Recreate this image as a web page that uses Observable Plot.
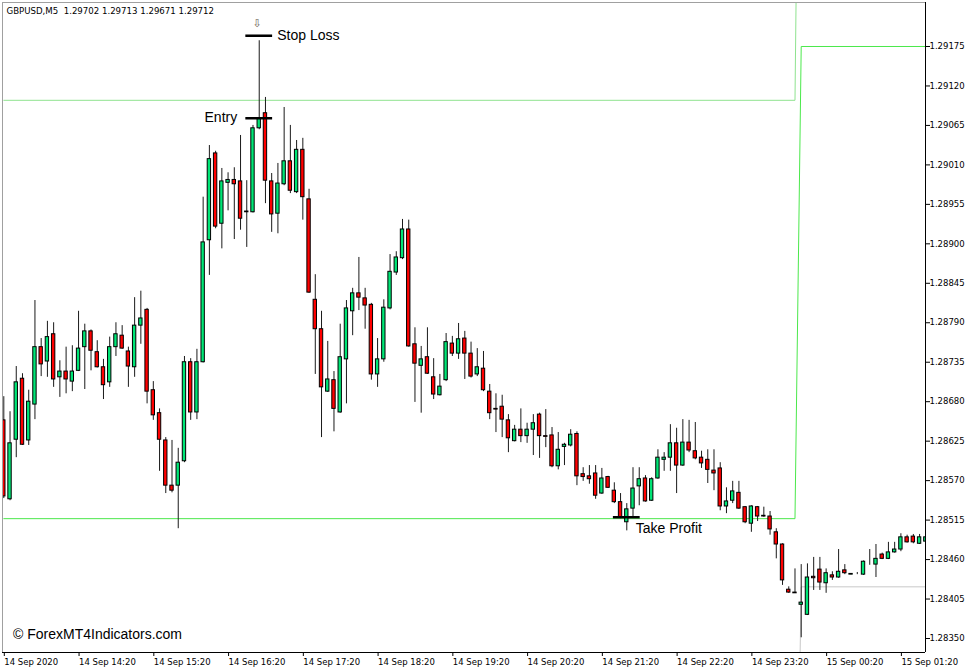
<!DOCTYPE html>
<html><head><meta charset="utf-8">
<script src="https://cdn.jsdelivr.net/npm/d3@7"></script>
<script src="https://cdn.jsdelivr.net/npm/@observablehq/plot@0.6"></script>
<style>
html,body{margin:0;padding:0;background:#fff;}
#chart svg{display:block;}
</style></head><body><div id="chart"></div>
<script>
const openP = [1.28654,1.28544,1.28627,1.28712,1.28626,1.28676,1.28756,1.28736,1.28774,1.28714,
1.28722,1.28708,1.28723,1.28756,1.28778,1.28749,1.28728,1.28707,1.28756,1.28772,
1.28750,1.28728,1.28786,1.28808,1.28696,1.28664,1.28626,1.28563,1.28563,1.28597,
1.28735,1.28665,1.28735,1.28905,1.29026,1.28928,1.28985,1.28989,1.28987,1.28944,
1.28944,1.29061,1.29082,1.28987,1.28942,1.28983,1.29015,1.28972,1.29031,1.28962,
1.28822,1.28781,1.28694,1.28710,1.28665,1.28739,1.28806,1.28831,1.28824,1.28815,
1.28718,1.28739,1.28810,1.28860,1.28880,1.28920,1.28760,1.28730,1.28742,1.28714,
1.28689,1.28710,1.28761,1.28747,1.28768,1.28747,1.28718,1.28726,1.28694,1.28670,
1.28673,1.28654,1.28625,1.28641,1.28632,1.28641,1.28662,1.28632,1.28633,1.28590,
1.28617,1.28619,1.28635,1.28579,1.28576,1.28580,1.28552,1.28575,1.28556,1.28540,
1.28512,1.28531,1.28562,1.28573,1.28542,1.28573,1.28599,1.28602,1.28622,1.28591,
1.28623,1.28611,1.28602,1.28599,1.28584,1.28587,1.28534,1.28542,1.28553,1.28533,
1.28510,1.28533,1.28521,1.28520,1.28498,1.28481,1.28418,1.28414,1.28397,1.28383,
1.28436,1.28446,1.28427,1.28438,1.28435,1.28445,1.28439,1.28439,1.28439,1.28454,
1.28453,1.28467,1.28461,1.28470,1.28474,1.28491,1.28492,1.28482,1.28485];
const highP = [1.28687,1.28666,1.28729,1.28719,1.28696,1.28821,1.28768,1.28792,1.28790,1.28737,
1.28756,1.28758,1.28806,1.28788,1.28780,1.28765,1.28739,1.28770,1.28790,1.28786,
1.28756,1.28825,1.28834,1.28810,1.28708,1.28670,1.28630,1.28626,1.28615,1.28743,
1.28740,1.28753,1.28965,1.29037,1.29029,1.29005,1.28999,1.29006,1.29051,1.28988,
1.29065,1.29183,1.29104,1.28998,1.29012,1.29090,1.29065,1.29044,1.29047,1.28976,
1.28857,1.28806,1.28764,1.28722,1.28788,1.28821,1.28838,1.28881,1.28838,1.28817,
1.28768,1.28822,1.28885,1.28889,1.28934,1.28933,1.28783,1.28757,1.28783,1.28740,
1.28718,1.28775,1.28771,1.28789,1.28778,1.28763,1.28754,1.28750,1.28704,1.28691,
1.28689,1.28662,1.28647,1.28670,1.28650,1.28662,1.28664,1.28669,1.28644,1.28637,
1.28622,1.28641,1.28638,1.28588,1.28591,1.28591,1.28587,1.28576,1.28567,1.28552,
1.28538,1.28588,1.28588,1.28577,1.28574,1.28613,1.28609,1.28648,1.28643,1.28655,
1.28654,1.28651,1.28611,1.28613,1.28613,1.28595,1.28560,1.28569,1.28569,1.28534,
1.28535,1.28534,1.28533,1.28527,1.28503,1.28482,1.28422,1.28447,1.28453,1.28454,
1.28463,1.28463,1.28447,1.28443,1.28474,1.28453,1.28440,1.28442,1.28458,1.28474,
1.28481,1.28469,1.28484,1.28484,1.28496,1.28494,1.28495,1.28495,1.28495];
const lowP = [1.28545,1.28542,1.28602,1.28619,1.28619,1.28655,1.28715,1.28714,1.28700,1.28686,
1.28691,1.28694,1.28722,1.28697,1.28723,1.28727,1.28683,1.28700,1.28743,1.28753,
1.28700,1.28714,1.28760,1.28677,1.28654,1.28583,1.28552,1.28553,1.28503,1.28595,
1.28654,1.28655,1.28734,1.28856,1.28921,1.28893,1.28946,1.28906,1.28919,1.28895,
1.28943,1.29059,1.28956,1.28916,1.28914,1.28981,1.28970,1.28970,1.28933,1.28831,
1.28718,1.28630,1.28693,1.28638,1.28664,1.28677,1.28772,1.28807,1.28781,1.28710,
1.28700,1.28735,1.28808,1.28856,1.28878,1.28756,1.28679,1.28664,1.28718,1.28683,
1.28688,1.28708,1.28743,1.28739,1.28711,1.28713,1.28715,1.28694,1.28655,1.28637,
1.28630,1.28609,1.28624,1.28623,1.28622,1.28605,1.28601,1.28616,1.28588,1.28585,
1.28591,1.28617,1.28563,1.28569,1.28565,1.28544,1.28551,1.28559,1.28538,1.28517,
1.28500,1.28519,1.28535,1.28540,1.28541,1.28572,1.28583,1.28583,1.28552,1.28590,
1.28609,1.28599,1.28587,1.28566,1.28556,1.28528,1.28524,1.28538,1.28530,1.28510,
1.28498,1.28513,1.28519,1.28494,1.28461,1.28424,1.28413,1.28413,1.28351,1.28382,
1.28417,1.28417,1.28413,1.28431,1.28434,1.28439,1.28439,1.28439,1.28438,1.28452,
1.28435,1.28460,1.28460,1.28469,1.28471,1.28483,1.28482,1.28481,1.28484];
const closeP = [1.28548,1.28622,1.28707,1.28620,1.28680,1.28756,1.28732,1.28770,1.28711,1.28722,
1.28711,1.28722,1.28754,1.28778,1.28751,1.28728,1.28703,1.28756,1.28774,1.28754,
1.28729,1.28786,1.28796,1.28694,1.28661,1.28627,1.28563,1.28556,1.28595,1.28735,
1.28665,1.28735,1.28902,1.29018,1.28924,1.28987,1.28989,1.28983,1.28935,1.28945,
1.29061,1.29075,1.28988,1.28941,1.28984,1.29015,1.28974,1.29031,1.28965,1.28832,
1.28781,1.28700,1.28711,1.28670,1.28742,1.28810,1.28831,1.28825,1.28814,1.28718,
1.28739,1.28811,1.28861,1.28881,1.28920,1.28757,1.28733,1.28739,1.28719,1.28690,
1.28701,1.28763,1.28747,1.28767,1.28747,1.28715,1.28728,1.28696,1.28664,1.28669,
1.28655,1.28629,1.28641,1.28632,1.28641,1.28650,1.28632,1.28631,1.28590,1.28613,
1.28620,1.28634,1.28576,1.28575,1.28572,1.28549,1.28573,1.28560,1.28540,1.28519,
1.28530,1.28559,1.28572,1.28541,1.28572,1.28602,1.28602,1.28622,1.28591,1.28623,
1.28612,1.28601,1.28594,1.28585,1.28580,1.28534,1.28541,1.28555,1.28531,1.28512,
1.28534,1.28520,1.28520,1.28502,1.28481,1.28431,1.28414,1.28413,1.28400,1.28435,
1.28434,1.28428,1.28441,1.28435,1.28443,1.28441,1.28440,1.28439,1.28457,1.28454,
1.28461,1.28461,1.28470,1.28474,1.28491,1.28484,1.28484,1.28491,1.28491];

const timeTickBars = [0,12,24,36,48,60,72,84,96,108,120,132,144];
const timeLabels = ["14 Sep 2020","14 Sep 14:20","14 Sep 15:20","14 Sep 16:20","14 Sep 17:20","14 Sep 18:20","14 Sep 19:20","14 Sep 20:20","14 Sep 21:20","14 Sep 22:20","14 Sep 23:20","15 Sep 00:20","15 Sep 01:20"];
const priceTicks = [1.28350,1.28405,1.28460,1.28515,1.28570,1.28625,1.28680,1.28735,1.28790,1.28845,1.28900,1.28955,1.29010,1.29065,1.29120,1.29175];

// indicator lines (bar index, price)
const upperLineBars = [0,127,128];
const upperLineVals = [1.29100,1.29100,1.29900];
const lowerLineBars = [0,127,128,148];
const lowerLineVals = [1.28517,1.28517,1.29175,1.29175];
const grayLineBars = [127,128,148];
const grayLineVals = [1.27900,1.28422,1.28422];

// trade levels
const levelNames = ["Stop Loss","Entry","Take Profit"];
const levelPrices = [1.29190,1.29075,1.28519];
const levelBars = [41,41,100];

const title = "GBPUSD,M5\u00a0 1.29702 1.29713 1.29671 1.29712";
const credit = "\u00a9 ForexMT4Indicators.com";

const GREEN = "#00e676", RED = "#ff0000";
const candles = openP.map((o,i)=>({i,o,h:highP[i],l:lowP[i],c:closeP[i]}));
const upper = upperLineBars.map((b,k)=>({b,v:upperLineVals[k]}));
const lower = lowerLineBars.map((b,k)=>({b,v:lowerLineVals[k]}));
const grayL = grayLineBars.map((b,k)=>({b,v:grayLineVals[k]}));
const levels = levelNames.map((n,k)=>({n,p:levelPrices[k],b:levelBars[k]}));
const labelAt = new Map(timeTickBars.map((b,k)=>[b,timeLabels[k]]));

const xDom = [-0.209, 147.95];
const yDom = [1.283305, 1.292363];

const chart = Plot.plot({
  width: 977, height: 672,
  marginLeft: 2, marginRight: 52, marginTop: 2, marginBottom: 20,
  style: {fontFamily: "DejaVu Sans", fontSize: "8.5px", background: "#fff", color: "#000"},
  x: {domain: xDom},
  y: {domain: yDom},
  marks: [
    Plot.line(upper, {x:"b", y:"v", stroke:"#8fe38f", strokeWidth:1, clip:true}),
    Plot.line(lower, {x:"b", y:"v", stroke:"#4be84b", strokeWidth:1, clip:true}),
    Plot.line(grayL, {x:"b", y:"v", stroke:"#c8c8c8", strokeWidth:1, clip:true}),
    Plot.ruleX(candles, {x:"i", y1:"l", y2:"h", stroke:"#1a1a1a", strokeWidth:1, clip:true}),
    Plot.rect(candles, {x1:d=>d.i-0.27, x2:d=>d.i+0.27, y1:"o", y2:"c",
      fill:d=>d.c>d.o?GREEN:(d.c<d.o?RED:"#000"), stroke:"#000", strokeWidth:1, clip:true}),
    Plot.ruleY(levels, {y:"p", x1:d=>d.b-2.15, x2:d=>d.b+2.15, stroke:"#000", strokeWidth:2.5}),
    Plot.text(levels.filter(d=>d.n==="Stop Loss"), {x:"b", y:"p", text:"n", textAnchor:"start", dx:18, dy:0, fontFamily:"Liberation Sans", fontSize:14, fill:"#000"}),
    Plot.text(levels.filter(d=>d.n==="Entry"), {x:"b", y:"p", text:"n", textAnchor:"end", dx:-22, dy:-0.5, fontFamily:"Liberation Sans", fontSize:14, fill:"#000"}),
    Plot.text(levels.filter(d=>d.n==="Take Profit"), {x:"b", y:"p", text:"n", textAnchor:"start", dx:9, dy:11, fontFamily:"Liberation Sans", fontSize:14, fill:"#000"}),
    Plot.text(levels.filter(d=>d.n==="Stop Loss"), {x:"b", y:"p", text:()=>"\u21e9", dx:-2, dy:-12, fontFamily:"DejaVu Sans", fontSize:11, fill:"#6f6252"}),
    Plot.text([title], {frameAnchor:"top-left", dx:4, dy:5, fontFamily:"DejaVu Sans", fontSize:8.6, fill:"#000"}),
    Plot.text([credit], {frameAnchor:"bottom-left", dx:10.5, dy:-14, fontFamily:"Liberation Sans", fontSize:14, fill:"#000"}),
    Plot.axisY({anchor:"right", ticks: priceTicks, tickFormat: d=>d.toFixed(5), tickSize:4, tickPadding:0, label:null}),
    Plot.axisX({ticks: timeTickBars, tickFormat: d=>labelAt.get(d), textAnchor:"start", tickSize:4, tickPadding:2, dx:0.5, label:null}),
    Plot.ruleX([xDom[0]], {stroke:"#a0a0a0"}),
    Plot.ruleY([yDom[1]], {stroke:"#a0a0a0"}),
    Plot.ruleX([xDom[1]], {stroke:"#000"}),
    Plot.ruleY([yDom[0]], {stroke:"#000"})
  ]
});
document.getElementById("chart").appendChild(chart);
</script></body></html>
